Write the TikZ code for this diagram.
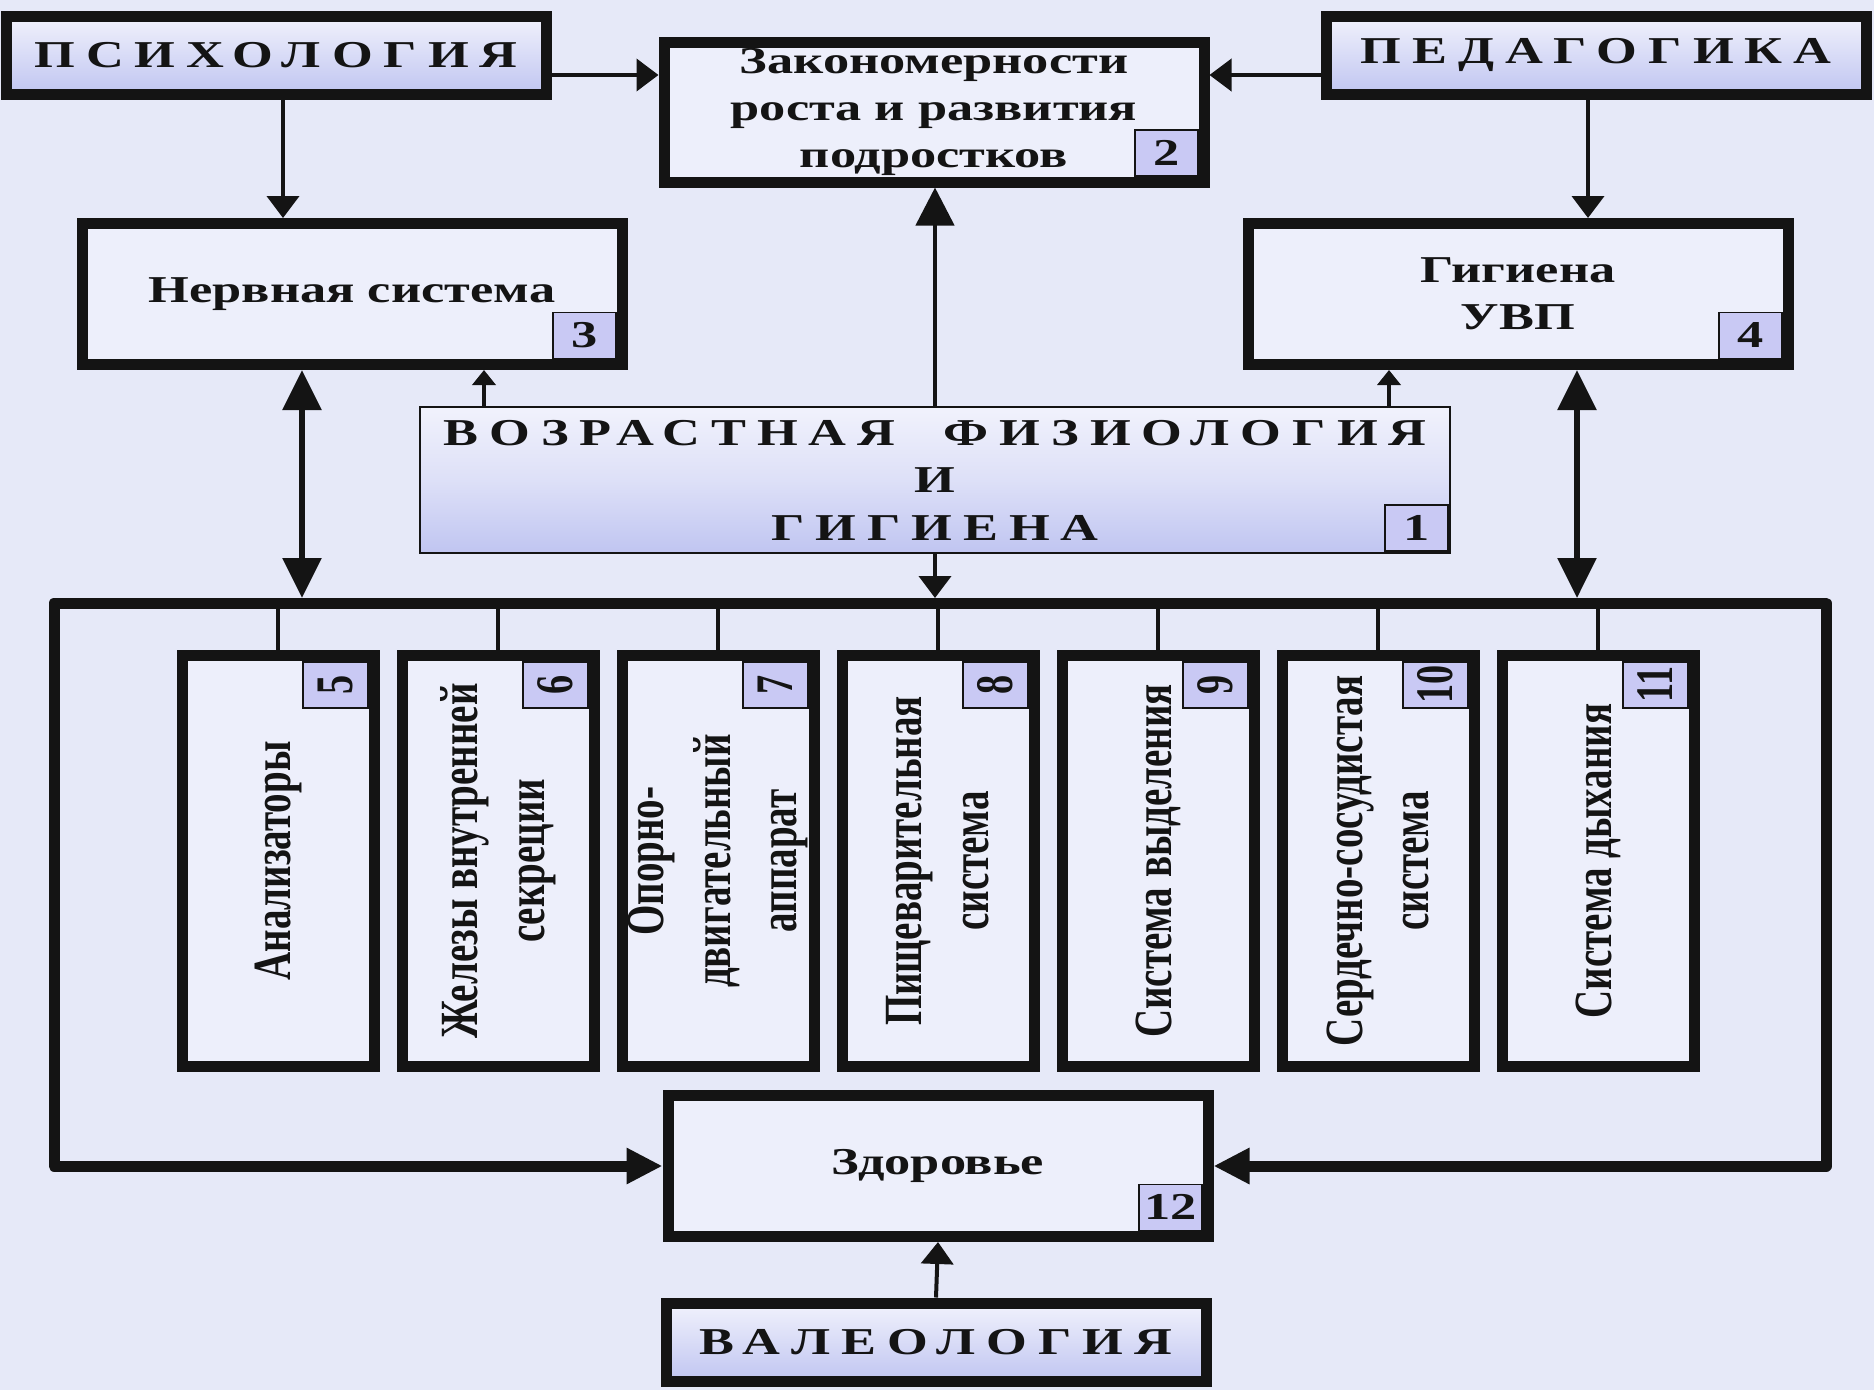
\documentclass[tikz,border=0pt]{standalone}
\usepackage{fontspec}
\usepackage{tikz}
\usetikzlibrary{arrows.meta}

\newfontfamily\mainf[FakeStretch=1.38]{Liberation Serif}
\newfontfamily\capsf[FakeStretch=1.38,LetterSpace=29]{Liberation Serif}
\newfontfamily\sidef[FakeStretch=0.725]{Liberation Serif}

\definecolor{bgcol}{HTML}{E6E9F8}
\definecolor{boxcol}{HTML}{EDEFFB}
\definecolor{hdrtop}{HTML}{F1F2FC}
\definecolor{hdrbot}{HTML}{C0C5F1}
\definecolor{badgecol}{HTML}{C9C9F4}
\definecolor{ink}{HTML}{141414}

\tikzset{bx/.style = {draw=ink, fill=boxcol, line width=1.1mm, inner sep=0, align=center, text=ink,
    minimum width=54mm, minimum height=14.1mm, font=\mainf\bfseries\fontsize{10.8}{13.3}\selectfont}}
\tikzset{hdr/.style = {bx, top color=hdrtop, bottom color=hdrbot, minimum height=7.8mm,
    font=\capsf\bfseries\fontsize{10.8}{13.5}\selectfont}}
\tikzset{col/.style = {draw=ink, fill=boxcol, line width=1.1mm, minimum width=19.2mm, minimum height=41.1mm, inner sep=0}}
\tikzset{coltext/.style = {rotate=90, align=center, text=ink, inner sep=0, font=\sidef\bfseries\fontsize{15.3}{19}\selectfont}}
\tikzset{badge/.style = {draw=ink, fill=badgecol, line width=0.15mm, minimum width=6.3mm, minimum height=4.6mm,
    inner sep=0, text=ink, font=\mainf\bfseries\fontsize{10.8}{12}\selectfont}}
\tikzset{colbadge/.style = {badge, minimum width=6.5mm, font=\sidef\bfseries\fontsize{15}{15}\selectfont}}
\tikzset{arr/.style = {draw=ink, line width=0.4mm, -{Triangle[length=2.2mm,width=3.2mm]}}}
\tikzset{bigarr/.style = {draw=ink, line width=0.45mm, -{Triangle[length=3.8mm,width=3.8mm]}}}
\tikzset{tinyarr/.style = {draw=ink, line width=0.4mm, -{Triangle[length=1.5mm,width=2.3mm]}}}
\tikzset{duo/.style = {draw=ink, line width=0.6mm, {Triangle[length=4mm,width=3.8mm]}-{Triangle[length=4mm,width=3.8mm]}}}
\tikzset{frame/.style = {draw=ink, line width=1.1mm, line join=round, {Triangle[length=3.6mm,width=3.4mm]}-{Triangle[length=3.6mm,width=3.4mm]}}}
\tikzset{tick/.style = {draw=ink, line width=0.35mm}}

\begin{document}
\begin{tikzpicture}[x=0.1mm, y=-0.1mm]
  \fill [bgcol] (0,0) rectangle (1874,1390);
  \useasboundingbox (0,0) rectangle (1874,1390);

  \node [hdr] (psy) at (276,55) {ПСИХОЛОГИЯ};
  \node [hdr] (ped) at (1596,55) {ПЕДАГОГИКА};
  \node [bx, minimum height=14mm] (zak) at (934,112) {Закономерности\\роста и развития\\подростков};
  \node [bx] (nerv) at (352,294) {Нервная система};
  \node [bx] (gig) at (1518,294) {Гигиена\\УВП};
  \node [hdr, line width=0.27mm, minimum width=103mm, minimum height=14.6mm, middle color=hdrtop!60!hdrbot]
    (vozr) at (935,480) {ВОЗРАСТНАЯ\ \ ФИЗИОЛОГИЯ\\И\\ГИГИЕНА};
  \node [bx] (zdor) at (938,1166) {Здоровье};
  \node [hdr] (valeo) at (936,1342) {ВАЛЕОЛОГИЯ};

  \node [badge, anchor=south east] (n1) at ([shift={(-0.27mm,0.27mm)}]vozr.south east) {1};
  \node [badge, anchor=south east] (n2) at ([shift={(-1.1mm,1.1mm)}]zak.south east) {2};
  \node [badge, anchor=south east] (n3) at ([shift={(-1.1mm,1.1mm)}]nerv.south east) {3};
  \node [badge, anchor=south east] (n4) at ([shift={(-1.1mm,1.1mm)}]gig.south east) {4};
  \node [badge, anchor=south east] (n12) at ([shift={(-1.1mm,1.1mm)}]zdor.south east) {12};

  \node [col] (c5) at (278,861) {};
  \node [col] (c6) at (498,861) {};
  \node [col] (c7) at (718,861) {};
  \node [col] (c8) at (938,861) {};
  \node [col] (c9) at (1158,861) {};
  \node [col] (c10) at (1378,861) {};
  \node [col] (c11) at (1598,861) {};

  \node [coltext] (t5) at (c5) {Анализаторы};
  \node [coltext] (t6) at (c6) {Железы внутренней\\секреции};
  \node [coltext] (t7) at (c7) {Опорно-\\двигательный\\аппарат};
  \node [coltext] (t8) at (c8) {Пищеварительная\\система};
  \node [coltext] (t9) at (c9) {Система выделения};
  \node [coltext] (t10) at (c10) {Сердечно-сосудистая\\система};
  \node [coltext] (t11) at (c11) {Система дыхания};

  \node [colbadge, anchor=north east] (n5) at ([shift={(-1.1mm,-1.1mm)}]c5.north east) {\rotatebox{90}{5}};
  \node [colbadge, anchor=north east] (n6) at ([shift={(-1.1mm,-1.1mm)}]c6.north east) {\rotatebox{90}{6}};
  \node [colbadge, anchor=north east] (n7) at ([shift={(-1.1mm,-1.1mm)}]c7.north east) {\rotatebox{90}{7}};
  \node [colbadge, anchor=north east] (n8) at ([shift={(-1.1mm,-1.1mm)}]c8.north east) {\rotatebox{90}{8}};
  \node [colbadge, anchor=north east] (n9) at ([shift={(-1.1mm,-1.1mm)}]c9.north east) {\rotatebox{90}{9}};
  \node [colbadge, anchor=north east] (n10) at ([shift={(-1.1mm,-1.1mm)}]c10.north east) {\rotatebox{90}{10}};
  \node [colbadge, anchor=north east] (n11) at ([shift={(-1.1mm,-1.1mm)}]c11.north east) {\rotatebox{90}{11}};

  \coordinate (ctl) at (54,603);
  \coordinate (ctr) at (1826,603);
  \draw [frame] (zdor.west) -- (zdor.west -| ctl) -- (ctl) -- (ctr) -- (zdor.east -| ctr) -- (zdor.east);

  \draw [tick] (c5.north |- ctl) -- (c5.north);
  \draw [tick] (c6.north |- ctl) -- (c6.north);
  \draw [tick] (c7.north |- ctl) -- (c7.north);
  \draw [tick] (c8.north |- ctl) -- (c8.north);
  \draw [tick] (c9.north |- ctl) -- (c9.north);
  \draw [tick] (c10.north |- ctl) -- (c10.north);
  \draw [tick] (c11.north |- ctl) -- (c11.north);

  \draw [arr] ([yshift=-2mm]psy.east) -- ([yshift=-2mm]psy.east -| zak.west);
  \draw [arr] ([yshift=-2mm]ped.west) -- ([yshift=-2mm]ped.west -| zak.east);
  \draw [arr] ([xshift=0.7mm]psy.south) -- ([xshift=0.7mm]psy.south |- nerv.north);
  \draw [arr] ([xshift=-0.8mm]ped.south) -- ([xshift=-0.8mm]ped.south |- gig.north);
  \draw [bigarr] (vozr.north) -- (vozr.north |- zak.south);
  \draw [tinyarr] ([xshift=13.2mm]nerv.south |- vozr.north) -- ([xshift=13.2mm]nerv.south);
  \draw [tinyarr] ([xshift=-12.9mm]gig.south |- vozr.north) -- ([xshift=-12.9mm]gig.south);
  \draw [duo, shorten >=0.5mm] ([xshift=-5mm]nerv.south) -- ([xshift=-5mm]nerv.south |- ctl);
  \draw [duo, shorten >=0.5mm] ([xshift=5.9mm]gig.south) -- ([xshift=5.9mm]gig.south |- ctl);
  \draw [arr, shorten >=0.5mm] (vozr.south) -- (vozr.south |- ctl);
  \draw [arr] (valeo.north) -- (zdor.south);
\end{tikzpicture}
\end{document}
